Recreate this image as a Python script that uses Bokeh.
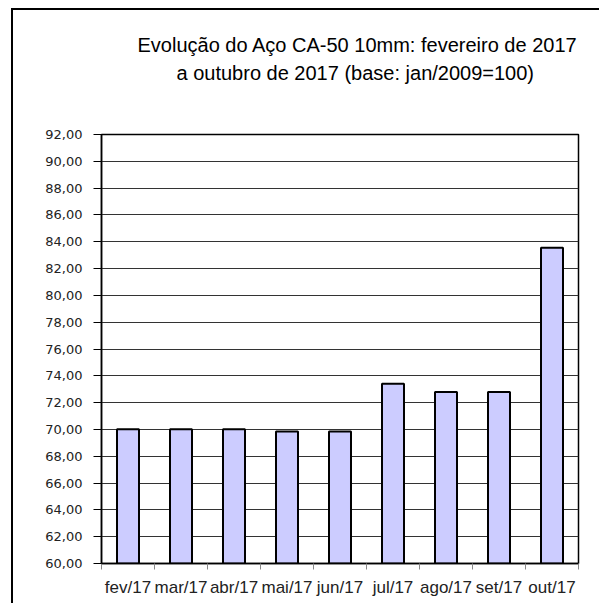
from bokeh.plotting import figure
from bokeh.models import Range1d, FixedTicker, Title
from bokeh.embed import file_html
from bokeh.resources import INLINE

categories = ["fev/17", "mar/17", "abr/17", "mai/17", "jun/17", "jul/17", "ago/17", "set/17", "out/17"]
values = [70.02, 70.02, 70.02, 69.85, 69.85, 73.40, 72.80, 72.80, 83.55]
y_ticks = [60, 62, 64, 66, 68, 70, 72, 74, 76, 78, 80, 82, 84, 86, 88, 90, 92]
title_lines = ["Evolução  do Aço CA-50 10mm: fevereiro de 2017", "a outubro de 2017 (base: jan/2009=100)"]

xs = list(range(1, len(categories) + 1))

p = figure(width=588, height=595, output_backend="svg", toolbar_location=None,
           x_range=Range1d(0.5, len(categories) + 0.5), y_range=Range1d(60, 92),
           min_border_left=88, min_border_right=23, min_border_bottom=42, min_border_top=124)

p.styles = {"border-top": "2px solid black", "border-left": "2px solid black",
            "border-right": "none", "border-bottom": "none", "outline": "none",
            "margin-left": "11px", "margin-top": "8px"}

p.vbar(x=xs, top=values, bottom=60, width=0.415, fill_color="#CCCCFF",
       line_color="black", line_width=2)

# titles (added bottom line first)
spacer = Title(text=" ", text_font_size="33px")
p.add_layout(spacer, "above")
t2 = Title(text=title_lines[1], align="left", offset=75, text_font="Liberation Sans",
           text_font_size="20px", text_font_style="normal", text_color="black", standoff=4)
p.add_layout(t2, "above")
t1 = Title(text=title_lines[0], align="left", offset=36, text_font="Liberation Sans",
           text_font_size="20px", text_font_style="normal", text_color="black", standoff=4)
p.add_layout(t1, "above")

p.outline_line_color = "black"
p.outline_line_width = 1.5
p.outline_line_alpha = 1

# x axis
xa = p.xaxis[0]
xa.ticker = FixedTicker(ticks=xs, minor_ticks=[i + 0.5 for i in range(0, len(categories) + 1)])
xa.major_label_overrides = {x: c for x, c in zip(xs, categories)}
xa.major_tick_out = 0
xa.major_tick_in = 0
xa.minor_tick_out = 6
xa.minor_tick_in = 0
xa.minor_tick_line_color = "#888888"
xa.axis_line_color = "black"
xa.axis_line_width = 1.5
xa.major_label_text_font = "Liberation Sans"
xa.major_label_text_font_size = "17px"
xa.major_label_text_color = "#222222"
xa.major_label_standoff = 8

# y axis
ya = p.yaxis[0]
ya.ticker = FixedTicker(ticks=y_ticks)
ya.major_label_overrides = {t: f"{t:.2f}".replace(".", ",") for t in y_ticks}
ya.major_tick_out = 8
ya.major_tick_in = 0
ya.minor_tick_out = 0
ya.minor_tick_in = 0
ya.major_tick_line_color = "black"
ya.axis_line_color = "black"
ya.axis_line_width = 1.5
ya.major_label_text_font = "DejaVu Sans"
ya.major_label_text_font_size = "13px"
ya.major_label_text_color = "#222222"
ya.major_label_standoff = 11

p.xgrid.visible = False
p.ygrid.ticker = FixedTicker(ticks=y_ticks)
p.ygrid.grid_line_color = "#333333"
p.ygrid.grid_line_width = 1

open("out.html", "w").write(file_html(p, INLINE))
